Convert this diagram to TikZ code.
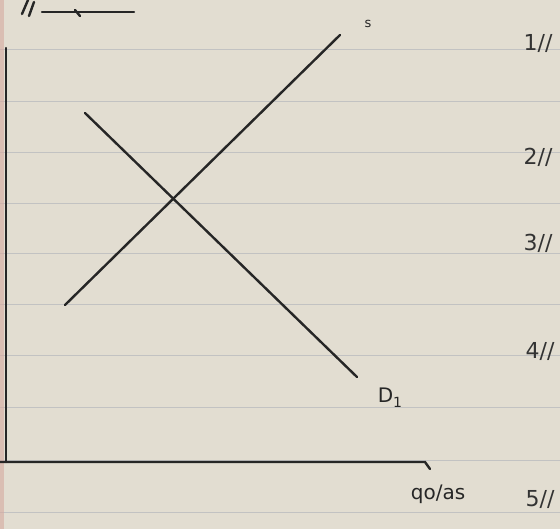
\documentclass[tikz,border=0pt]{standalone}
\usepackage{fontspec}
\setmainfont{DejaVu Sans}
\begin{document}
\begin{tikzpicture}[x=1pt,y=-1pt,
  ink/.style={line width=2.4pt,color=black!85,line cap=round},
  rule/.style={line width=1pt,color=black!24},
  lbl/.style={font=\fontsize{20}{22}\selectfont,color=black!85,inner sep=0pt},
  num/.style={font=\fontsize{22}{24}\selectfont,color=black!80,inner sep=0pt}]
\useasboundingbox (0,0) rectangle (560,529);
\fill[color={rgb,255:red,226;green,221;blue,209}] (0,0) rectangle (560,529);
% ruled lines
\foreach \yy in {50,102,153,204,254,305,356,408,460,512}
  \draw[rule] (0,\yy) -- (560,\yy);
% red margin
\fill[color={rgb,255:red,214;green,170;blue,160},opacity=0.6] (0,0) rectangle (4,529);
% axes
\coordinate (o) at (6,462);
\coordinate (ytop) at (6,48);
\coordinate (xend) at (425,462);
\coordinate (xhook) at (430,469);
\draw[ink] (ytop) -- (o);
\draw[ink] (0,462) -- (xend) -- (xhook);
% top scribble
\coordinate (t1) at (42,12);
\coordinate (t2) at (134,12);
\draw[ink] (t1) -- (t2);
\draw[ink] (28,0) -- (22,14);
\draw[ink] (34,2) -- (29,16);
\draw[ink] (75,10) -- (80,16);
% supply
\coordinate (s1) at (65,305);
\coordinate (s2) at (340,35);
\draw[ink] (s1) -- (s2);
\node[lbl] (sl) at (368,24) {\fontsize{13}{14}\selectfont s};
% demand
\coordinate (d1) at (85,113);
\coordinate (d2) at (357,377);
\draw[ink] (d1) -- (d2);
\node[lbl] (dl) at (390,398) {D\raisebox{-5pt}{\fontsize{14}{15}\selectfont 1}};
% axis label
\node[lbl] (ql) at (438,494) {qo/as};
% numbers
\node[num] (n1) at (538,44) {1//};
\node[num] (n2) at (538,157) {2//};
\node[num] (n3) at (538,243) {3//};
\node[num] (n4) at (540,352) {4//};
\node[num] (n5) at (540,500) {5//};
\end{tikzpicture}
\end{document}
